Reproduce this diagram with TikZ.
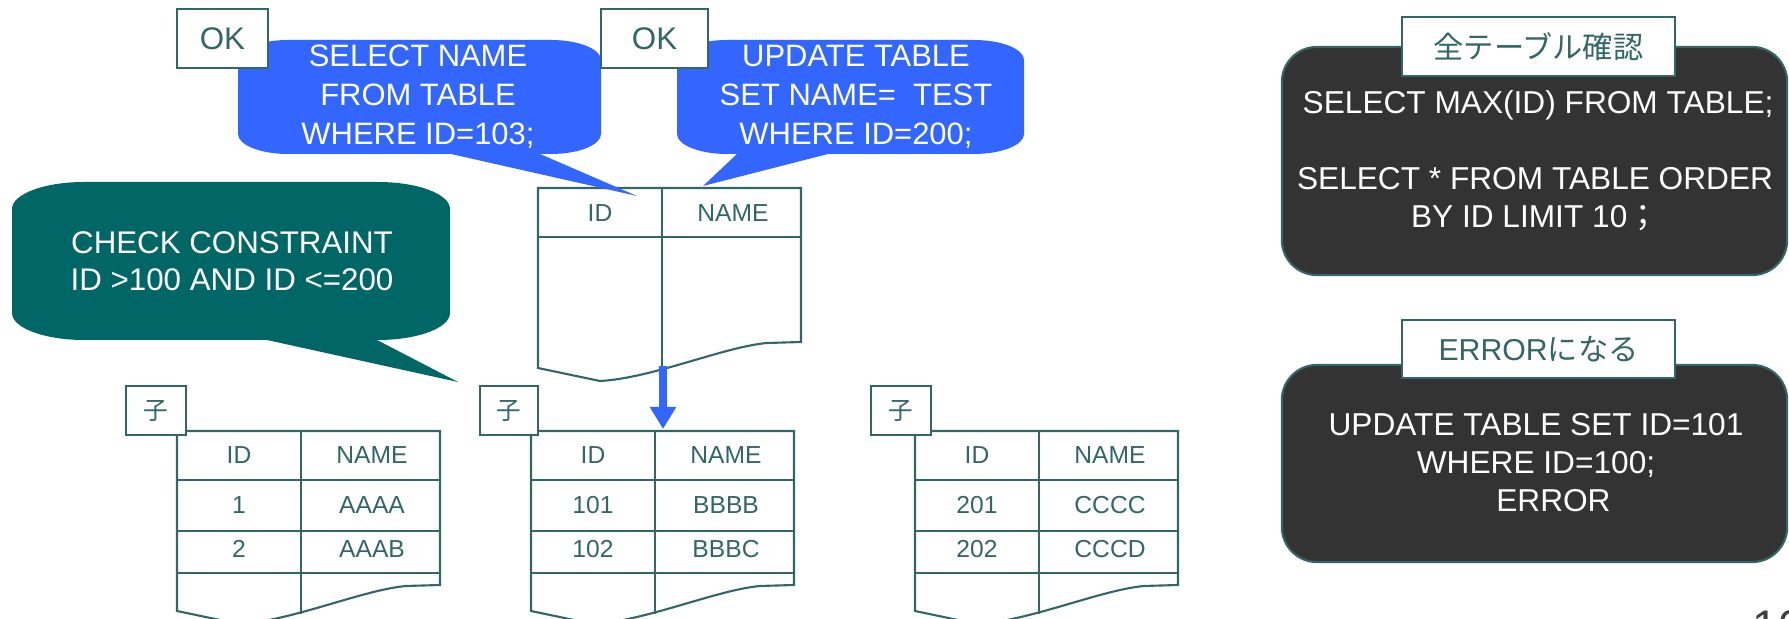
\documentclass[tikz,border=0pt]{standalone}
\usepackage{fontspec}
\setmainfont{Liberation Sans}
\newfontfamily\jp{Noto Sans CJK JP}
\usetikzlibrary{arrows.meta}
\definecolor{teal1}{RGB}{51,102,102}
\definecolor{green1}{RGB}{0,102,102}
\definecolor{blue1}{RGB}{51,102,255}
\definecolor{dark1}{RGB}{51,51,51}
\definecolor{pgray}{RGB}{64,64,64}
\newcommand\fsz[2]{\fontsize{#1}{#2}\selectfont}
\newcommand\docframe{%
  \draw[tline] (0,0) -- (263,0) -- (263,154) -- (229,155) .. controls (185,159) and (115,190) .. (62,193) -- (0,180) -- cycle;
  \draw[tline] (0,49) -- (263,49);
  \draw[tline] (124,0) -- (124,183);
}
\newcommand\rowlines{%
  \draw[tline] (0,100) -- (263,100);
  \draw[tline] (0,142) -- (263,142);
}
\tikzset{
  tline/.style={draw=teal1, line width=0.6pt},
  bubtxt/.style={text=white, align=center, inner sep=0, font=\fsz{8.8}{11.1}},
  grtxt/.style={text=white, align=center, inner sep=0, font=\fsz{8.9}{10.5}},
  tabtxt/.style={text=teal1, inner sep=0, font=\fsz{7}{8}},
  okbox/.style={draw=teal1, line width=0.6pt, fill=white, text=teal1, inner sep=0, font=\fsz{8.9}{10}, minimum height=0.59cm},
  kobox/.style={draw=teal1, line width=0.6pt, fill=white, text=teal1, inner sep=0, font=\jp\fsz{7}{8}, minimum width=0.6cm, minimum height=0.49cm},
  lblbox/.style={draw=teal1, line width=0.6pt, fill=white, text=teal1, inner sep=0, font=\fsz{8.6}{10}, minimum width=2.73cm},
  panel/.style={draw=teal1, line width=0.6pt, fill=dark1, rounded corners=0.35cm, minimum width=5.05cm, inner sep=0},
  paneltxt/.style={text=white, align=center, inner sep=0, font=\fsz{9}{10.8}},
  arrowblue/.style={draw=blue1, line width=2.2pt, -{Triangle[width=0.25cm,length=0.22cm]}}
}
\begin{document}
\begin{tikzpicture}[x=0.01cm,y=-0.01cm]
\useasboundingbox (0,0) rectangle (1789,619);
\begin{scope}
\clip (0,0) rectangle (1789,619);

% top table
\begin{scope}[shift={(538,188)}]
  \docframe
  \node[tabtxt] (t0id) at (62,25) {ID};
  \node[tabtxt] (t0name) at (195,25) {NAME};
\end{scope}
\coordinate (t0div) at (663,366);
\coordinate (t2in) at (663,429);
\draw[arrowblue] (t0div) -- (t2in);

% child tables
\begin{scope}[shift={(177,431)}]
  \docframe \rowlines
  \node[tabtxt] (t1id) at (62,24) {ID};
  \node[tabtxt] (t1name) at (195,24) {NAME};
  \node[tabtxt] (t1a) at (62,74) {1};
  \node[tabtxt] (t1b) at (195,74) {AAAA};
  \node[tabtxt] (t1c) at (62,118) {2};
  \node[tabtxt] (t1d) at (195,118) {AAAB};
\end{scope}
\begin{scope}[shift={(531,431)}]
  \docframe \rowlines
  \node[tabtxt] (t2id) at (62,24) {ID};
  \node[tabtxt] (t2name) at (195,24) {NAME};
  \node[tabtxt] (t2a) at (62,74) {101};
  \node[tabtxt] (t2b) at (195,74) {BBBB};
  \node[tabtxt] (t2c) at (62,118) {102};
  \node[tabtxt] (t2d) at (195,118) {BBBC};
\end{scope}
\begin{scope}[shift={(915,431)}]
  \docframe \rowlines
  \node[tabtxt] (t3id) at (62,24) {ID};
  \node[tabtxt] (t3name) at (195,24) {NAME};
  \node[tabtxt] (t3a) at (62,74) {201};
  \node[tabtxt] (t3b) at (195,74) {CCCC};
  \node[tabtxt] (t3c) at (62,118) {202};
  \node[tabtxt] (t3d) at (195,118) {CCCD};
\end{scope}
\node[kobox] (ko1) at (156,410.5) {子};
\node[kobox, minimum width=0.58cm] (ko2) at (509,410.5) {子};
\node[kobox] (ko3) at (901,410.5) {子};

% callouts
\fill[blue1] (288,40) -- (551,40) .. controls (578.6,40) and (601,49) .. (601,60) -- (601,134) .. controls (601,145) and (578.6,154) .. (551,154) -- (540,154) -- (637,196) -- (451,154) -- (288,154) .. controls (260.4,154) and (238,145) .. (238,134) -- (238,60) .. controls (238,49) and (260.4,40) .. (288,40) -- cycle;
\node[bubtxt] (b1) at (418,97) {SELECT NAME\\FROM TABLE\\WHERE ID=103;};

\fill[blue1] (727,40) -- (974,40) .. controls (1001.6,40) and (1024,49) .. (1024,60) -- (1024,134) .. controls (1024,145) and (1001.6,154) .. (974,154) -- (828,154) -- (703,186) -- (737,154) -- (727,154) .. controls (699.4,154) and (677,145) .. (677,134) -- (677,60) .. controls (677,49) and (699.4,40) .. (727,40) -- cycle;
\node[bubtxt] (b2) at (856,97) {UPDATE TABLE\\SET NAME=\ \ TEST\\WHERE ID=200;};

\fill[green1] (84,182) -- (378,182) .. controls (417.7,182) and (450,194.1) .. (450,209) -- (450,313) .. controls (450,327.9) and (417.7,340) .. (378,340) -- (377,340) -- (458,382) -- (267,340) -- (84,340) .. controls (44.3,340) and (12,327.9) .. (12,313) -- (12,209) .. controls (12,194.1) and (44.3,182) .. (84,182) -- cycle;
\node[grtxt] (g1) at (232,261) {CHECK CONSTRAINT\\ID >100 AND ID <=200};

\node[okbox, minimum width=0.91cm] (ok1) at (222.5,38.5) {OK};
\node[okbox, minimum width=1.07cm] (ok2) at (654.5,38.5) {OK};

% right panels
\node[panel, minimum height=2.28cm] (p1) at (1534.5,161) {};
\node[lblbox, minimum height=0.59cm] (l1) at (1538.5,46.5) {\jp 全テーブル確認};
\node[paneltxt] (q1a) at (1538,105) {SELECT MAX(ID) FROM TABLE;};
\node[paneltxt] (q1b) at (1535,199) {SELECT * FROM TABLE ORDER\\BY ID LIMIT 10{\jp ；}};

\node[panel, minimum height=1.97cm] (p2) at (1534.5,463.5) {};
\node[lblbox, minimum height=0.58cm] (l2) at (1538.5,349) {ERROR{\jp になる}};
\node[paneltxt] (q2) at (1536,463) {UPDATE TABLE SET ID=101\\WHERE ID=100;\\\hspace*{1.1em}ERROR};

\node[text=pgray, inner sep=0, anchor=north west, font=\fsz{13}{15}] (pg) at (1752,610) {10};
\end{scope}
\end{tikzpicture}
\end{document}
